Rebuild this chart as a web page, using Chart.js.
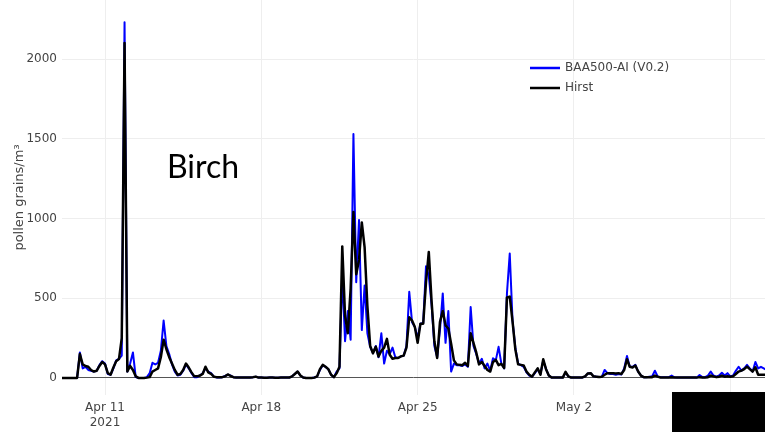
<!DOCTYPE html>
<html>
<head>
<meta charset="utf-8">
<script src="https://cdn.jsdelivr.net/npm/chart.js@4"></script>
<style>
  html, body { margin: 0; padding: 0; background: #fff; }
  #wrap { width: 765px; height: 432px; }
</style>
</head>
<body>
<div id="wrap"><canvas id="PollenChart" width="765" height="432"></canvas></div>
<script>
//-------------------------------------------------- Data (3-hourly, first value Apr 9 00:00)
const startDay = -2;            // days relative to Apr 11 2021
const stepDay = 1 / 8;          // 3 hours
const seriesNames = ["BAA500-AI (V0.2)", "Hirst"];

const baa500 = [
  0, 0, 0, 0, 0, 0, 0, 160,             // Apr 9
  60, 70, 50, 45, 40, 45, 80, 105,      // Apr 10
  90, 25, 20, 60, 110, 120, 140, 2230,  // Apr 11
  40, 90, 160, 5, 0, 0, 0, 5,           // Apr 12
  30, 95, 85, 95, 170, 360, 200, 150,   // Apr 13
  85, 40, 15, 20, 45, 85, 60, 30,       // Apr 14
  5, 5, 15, 30, 60, 40, 30, 8,          // Apr 15
  3, 3, 5, 12, 20, 15, 5, 3,            // Apr 16
  3, 3, 3, 3, 3, 5, 8, 2,               // Apr 17
  2, 1, 1, 2, 2, 1, 1, 2,               // Apr 18
  2, 2, 2, 10, 25, 40, 15, 3,           // Apr 19
  0, 0, 0, 2, 10, 50, 80, 70,           // Apr 20
  55, 20, 5, 40, 60, 650, 230, 420,     // Apr 21
  240, 1530, 600, 990, 300, 580, 280, 195, // Apr 22
  155, 200, 130, 280, 90, 170, 150, 190,   // Apr 23
  130, 125, 135, 140, 200, 540, 350, 320,  // Apr 24
  250, 340, 345, 700, 640, 460, 200, 130,  // Apr 25
  300, 530, 220, 420, 40, 90, 80, 80,   // Apr 26
  75, 85, 70, 445, 200, 150, 90, 120,   // Apr 27
  60, 90, 45, 123, 110, 195, 90, 60,    // Apr 28
  530, 780, 360, 190, 90, 80, 70, 35,   // Apr 29
  15, 8, 30, 55, 25, 110, 55, 15,       // Apr 30
  2, 2, 2, 2, 2, 35, 10, 2,             // May 1
  2, 2, 2, 3, 10, 28, 30, 10,           // May 2
  8, 6, 8, 50, 30, 25, 25, 20,          // May 3
  25, 22, 60, 138, 70, 70, 82, 40,      // May 4
  15, 5, 5, 8, 10, 45, 10, 5,           // May 5
  5, 5, 5, 15, 4, 2, 2, 2,              // May 6
  2, 2, 2, 2, 2, 18, 5, 5,              // May 7
  15, 40, 15, 8, 15, 32, 15, 30,        // May 8
  10, 15, 45, 70, 46, 60, 82, 60,       // May 9
  40, 100, 60, 70, 60, 50, 30, 30       // May 10
];

const hirst = [
  0, 0, 0, 0, 0, 0, 0, 150,             // Apr 9
  85, 75, 70, 50, 40, 45, 75, 100,      // Apr 10
  85, 30, 20, 65, 105, 118, 250, 2100,  // Apr 11
  40, 75, 50, 10, 0, 0, 0, 2,           // Apr 12
  5, 40, 50, 60, 130, 240, 180, 130,    // Apr 13
  90, 50, 20, 25, 50, 90, 65, 35,       // Apr 14
  10, 10, 15, 25, 70, 35, 25, 8,        // Apr 15
  5, 4, 5, 10, 22, 12, 5, 3,            // Apr 16
  3, 3, 3, 3, 3, 5, 8, 2,               // Apr 17
  2, 1, 1, 2, 2, 1, 1, 2,               // Apr 18
  2, 2, 2, 10, 25, 40, 15, 3,           // Apr 19
  0, 0, 0, 2, 10, 55, 82, 70,           // Apr 20
  55, 20, 5, 30, 70, 825, 390, 280,     // Apr 21
  560, 1040, 650, 740, 975, 820, 450, 200, // Apr 22
  155, 196, 134, 170, 190, 245, 145, 120,  // Apr 23
  125, 125, 135, 140, 190, 380, 360, 320,  // Apr 24
  220, 340, 340, 600, 790, 480, 230, 125,  // Apr 25
  350, 420, 330, 310, 215, 110, 85, 82, // Apr 26
  80, 95, 75, 280, 220, 160, 85, 100,   // Apr 27
  75, 50, 40, 100, 113, 80, 88, 62,     // Apr 28
  505, 510, 355, 180, 85, 82, 78, 40,   // Apr 29
  20, 8, 35, 60, 20, 117, 55, 15,       // Apr 30
  2, 2, 2, 2, 2, 38, 10, 2,             // May 1
  2, 2, 2, 3, 10, 28, 30, 10,           // May 2
  8, 6, 8, 20, 30, 30, 30, 28,          // May 3
  30, 25, 50, 117, 70, 65, 78, 40,      // May 4
  15, 5, 5, 5, 5, 15, 8, 3,             // May 5
  3, 3, 3, 5, 3, 2, 2, 2,               // May 6
  2, 2, 2, 2, 2, 5, 3, 3,               // May 7
  5, 15, 10, 5, 8, 15, 8, 10,           // May 8
  8, 10, 25, 40, 46, 55, 71, 55,        // May 9
  40, 67, 20, 20, 20, 20, 15, 15        // May 10
];

const xTickDays = [0, 7, 14, 21, 28];
const xTickLabels = [["Apr 11", "2021"], "Apr 18", "Apr 25", "May 2", "May 9"];
const yTicks = [0, 500, 1000, 1500, 2000];
//^^^^^^^^^^^^^^^^^^^^^^^^^^^^^^^^^^^^^^^^^^^^^^^^^^ Data



//-------------------------------------------------- Chart
const toPoints = arr => arr.map((v, j) => ({x: startDay + j * stepDay, y: v}));
const FONT = "'DejaVu Sans', Verdana, sans-serif";

const overlay = {
	id: "overlay",
	afterDraw(chart) {
		const ctx = chart.ctx;
		ctx.save();
		// legend
		const items = [{c: "#0000ff", t: seriesNames[0], y: 68}, {c: "#000000", t: seriesNames[1], y: 88}];
		ctx.font = "12px " + FONT;
		ctx.textBaseline = "middle";
		items.forEach(it => {
			ctx.strokeStyle = it.c; ctx.lineWidth = 2.5;
			ctx.beginPath(); ctx.moveTo(530, it.y); ctx.lineTo(560, it.y); ctx.stroke();
			ctx.fillStyle = "#444"; ctx.fillText(it.t, 565, it.y);
		});
		// annotation
		ctx.font = "32px Lato, 'Noto Sans', sans-serif";
		ctx.fillStyle = "#000";
		ctx.textBaseline = "alphabetic";
		ctx.fillText("Birch", 167, 178);
		// redaction block
		ctx.fillStyle = "#000";
		ctx.fillRect(672, 392, 93, 40);
		ctx.restore();
	}
};

new Chart(document.getElementById("PollenChart").getContext("2d"), {
	type: "line",
	data: {
		datasets: [
			{label: seriesNames[0], data: toPoints(baa500), borderColor: "#0000ff", borderWidth: 2, order: 1},
			{label: seriesNames[1], data: toPoints(hirst), borderColor: "#000000", borderWidth: 2.5, order: 0}
		]
	},
	options: {
		responsive: false,
		animation: false,
		layout: {padding: {top: 0, right: 0, bottom: 0, left: 0}},
		elements: {point: {radius: 0}, line: {tension: 0, borderJoinStyle: "round"}},
		plugins: {legend: {display: false}, tooltip: {enabled: false}},
		scales: {
			x: {
				type: "linear",
				min: -1.926,
				max: 29.556,
				afterBuildTicks: s => { s.ticks = xTickDays.map(v => ({value: v})); },
				afterFit: s => { s.height = 37; s.paddingLeft = 0; s.paddingRight = 0; },
				grid: {color: "#eeeeee", drawTicks: false},
				border: {display: false},
				ticks: {
					autoSkip: false, maxRotation: 0, padding: 6, color: "#444",
					font: {family: FONT, size: 12},
					callback: v => xTickLabels[xTickDays.indexOf(v)]
				}
			},
			y: {
				min: -107,
				max: 2370,
				afterBuildTicks: s => { s.ticks = yTicks.map(v => ({value: v})); },
				afterFit: s => { s.width = 62; s.paddingTop = 0; s.paddingBottom = 0; },
				grid: {color: ctx => ctx.tick && ctx.tick.value === 0 ? "#555555" : "#eeeeee", drawTicks: false},
				border: {display: false},
				ticks: {padding: 5, color: "#444", font: {family: FONT, size: 12}, callback: v => String(v)},
				title: {display: true, text: "pollen grains/m³", color: "#444", font: {family: FONT, size: 13}, padding: {top: 12, bottom: 0}}
			}
		}
	},
	plugins: [overlay]
});
//^^^^^^^^^^^^^^^^^^^^^^^^^^^^^^^^^^^^^^^^^^^^^^^^^^ Chart
</script>
</body>
</html>
